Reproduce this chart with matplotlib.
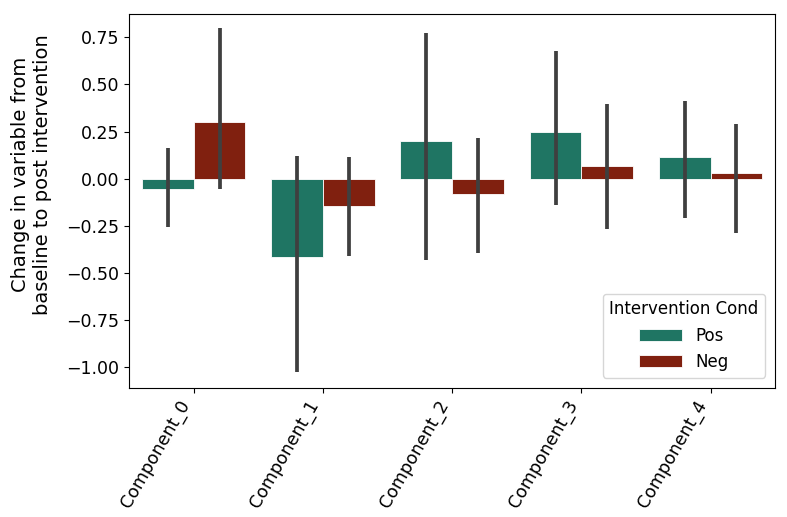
import matplotlib.pyplot as plt
import numpy as np

# Mean change and confidence interval per component and condition
components = ['Component_0', 'Component_1', 'Component_2', 'Component_3', 'Component_4']
conditions = ['Pos', 'Neg']

pos_mean = [-0.053, -0.417, 0.198, 0.249, 0.117]
pos_low = [-0.258, -1.025, -0.429, -0.138, -0.208]
pos_high = [0.163, 0.122, 0.772, 0.678, 0.413]

neg_mean = [0.300, -0.143, -0.079, 0.070, 0.032]
neg_low = [-0.053, -0.412, -0.394, -0.265, -0.288]
neg_high = [0.798, 0.115, 0.216, 0.396, 0.291]

colors = ['#1f7563', '#80200f']  # teal, dark red

fig = plt.figure(figsize=(7.87, 5.17), dpi=100)
ax = fig.add_axes([0.164, 0.250, 0.821, 0.723])

x = np.arange(len(components))
width = 0.4
series = [(pos_mean, pos_low, pos_high), (neg_mean, neg_low, neg_high)]

for i, (mean, low, high) in enumerate(series):
    mean = np.array(mean)
    err = [mean - np.array(low), np.array(high) - mean]
    offset = (i - 0.5) * width
    ax.bar(x + offset, mean, width=width, color=colors[i], edgecolor='white',
           linewidth=0.6, label=conditions[i])
    ax.errorbar(x + offset, mean, yerr=err, fmt='none', ecolor='#3f3f3f',
                elinewidth=2.7, capsize=0)

ax.set_xlim(-0.5, 4.5)
ax.set_ylim(-1.108, 0.874)
ax.set_yticks([-1.0, -0.75, -0.5, -0.25, 0.0, 0.25, 0.5, 0.75])
ax.set_xticks(x)
ax.set_xticklabels(components, rotation=60, ha='right', fontsize=12.5)
ax.tick_params(axis='y', labelsize=12.5)
ax.set_ylabel('Change in variable from\nbaseline to post intervention', fontsize=14)
ax.yaxis.set_label_coords(-0.12, 0.57)

ax.legend(title='Intervention Cond', loc='lower right', fontsize=12, title_fontsize=12,
          handlelength=2.6, borderaxespad=0.6)

plt.savefig('out.png', dpi=100)
plt.close()
